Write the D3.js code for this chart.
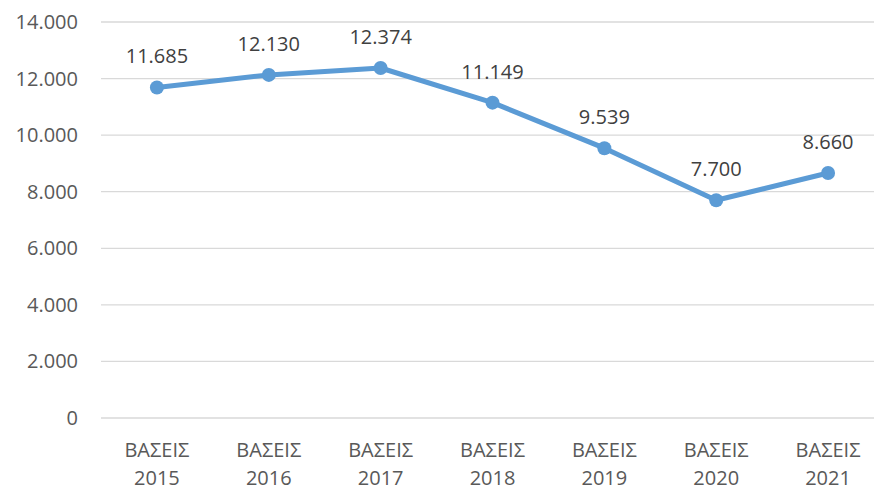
<!DOCTYPE html>
<html>
<head>
<meta charset="utf-8">
<script src="https://cdn.jsdelivr.net/npm/d3@7"></script>
<style>
  body { margin: 0; background: #fff; }
  text { font-family: "Open Sans", sans-serif; fill: #595959; }
</style>
</head>
<body>
<svg id="chart" width="874" height="487"></svg>
<script>
var years = ["2015", "2016", "2017", "2018", "2019", "2020", "2021"];
var prefix = "ΒΑΣΕΙΣ";
var values = [11685, 12130, 12374, 11149, 9539, 7700, 8660];
var yTicks = [0, 2000, 4000, 6000, 8000, 10000, 12000, 14000];

var svg = d3.select("#chart");
var mLeft = 101, mRight = 884, mTop = 22, mBottom = 418;

var x = d3.scaleBand().domain(years).range([mLeft, mRight]);
var y = d3.scaleLinear().domain([0, 14000]).range([mBottom, mTop]);

// greek style thousands: 14.000
var loc = d3.formatLocale({decimal: ",", thousands: ".", grouping: [3], currency: ["", "€"]});
var fmt = loc.format(",d");

// gridlines
svg.append("g")
  .selectAll("line")
  .data(yTicks)
  .enter().append("line")
  .attr("x1", mLeft).attr("x2", mRight)
  .attr("y1", function(d) { return y(d); })
  .attr("y2", function(d) { return y(d); })
  .attr("stroke", "#d9d9d9")
  .attr("stroke-width", 1.3);

// y labels
svg.append("g")
  .selectAll("text")
  .data(yTicks)
  .enter().append("text")
  .attr("x", 78)
  .attr("y", function(d) { return y(d); })
  .attr("dy", "0.35em")
  .attr("text-anchor", "end")
  .style("font-size", "20px")
  .text(function(d) { return fmt(d); });

// x labels, two lines
var xl = svg.append("g")
  .selectAll("text")
  .data(years)
  .enter().append("text")
  .attr("text-anchor", "middle")
  .style("font-size", "20px");
xl.append("tspan")
  .attr("x", function(d) { return x(d) + x.bandwidth() / 2; })
  .attr("y", 457)
  .text(prefix);
xl.append("tspan")
  .attr("x", function(d) { return x(d) + x.bandwidth() / 2; })
  .attr("y", 485)
  .text(function(d) { return d; });

var cx = function(d, i) { return x(years[i]) + x.bandwidth() / 2; };

var line = d3.line()
  .x(cx)
  .y(function(d) { return y(d); });

svg.append("path")
  .datum(values)
  .attr("d", line)
  .attr("fill", "none")
  .attr("stroke", "#5b9bd5")
  .attr("stroke-width", 5)
  .attr("stroke-linejoin", "round");

svg.append("g")
  .selectAll("circle")
  .data(values)
  .enter().append("circle")
  .attr("cx", cx)
  .attr("cy", function(d) { return y(d); })
  .attr("r", 7)
  .attr("fill", "#5b9bd5");

// data labels
svg.append("g")
  .selectAll("text")
  .data(values)
  .enter().append("text")
  .attr("x", cx)
  .attr("y", function(d) { return y(d) - 24; })
  .attr("text-anchor", "middle")
  .style("font-size", "20px")
  .style("fill", "#404040")
  .text(function(d) { return fmt(d); });
</script>
</body>
</html>
